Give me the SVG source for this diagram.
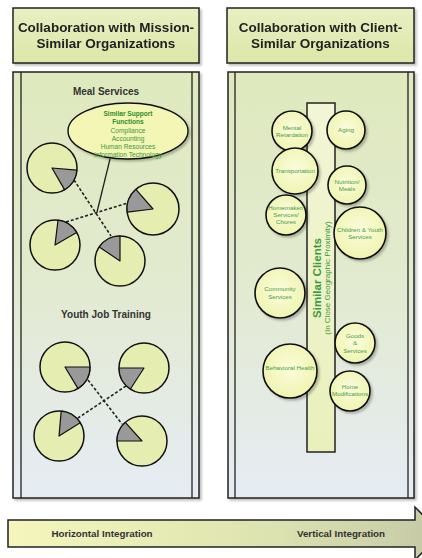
<svg xmlns="http://www.w3.org/2000/svg" width="422" height="558" viewBox="0 0 422 558">
<defs>
<linearGradient id="hdr" x1="0" y1="0" x2="0" y2="1"><stop offset="0" stop-color="#E8EFC2"/><stop offset="1" stop-color="#DCE7A8"/></linearGradient>
<linearGradient id="pnl" x1="0" y1="0" x2="0" y2="1"><stop offset="0" stop-color="#DFE9BD"/><stop offset="0.5" stop-color="#E2EAD0"/><stop offset="1" stop-color="#E6ECF4"/></linearGradient>
<linearGradient id="arr" x1="0" y1="0" x2="1" y2="0"><stop offset="0" stop-color="#F4F6BC"/><stop offset="0.6" stop-color="#DDE3B0"/><stop offset="1" stop-color="#C4C9A6"/></linearGradient>
<linearGradient id="bar" x1="0" y1="0" x2="0" y2="1"><stop offset="0" stop-color="#F2F6D6"/><stop offset="1" stop-color="#E9F0BC"/></linearGradient>
<radialGradient id="cir" cx="0.5" cy="0.45" r="0.55"><stop offset="0" stop-color="#FBFCDC"/><stop offset="1" stop-color="#EFF4B0"/></radialGradient>
<filter id="sh" x="-10%" y="-10%" width="130%" height="130%"><feDropShadow dx="2" dy="2" stdDeviation="1.2" flood-color="#000" flood-opacity="0.25"/></filter>
</defs>
<style>
.box{stroke:#222;stroke-width:1.5}
.hdr{fill:url(#hdr)}
.pnl{fill:url(#pnl)}
.ln{stroke:#222;stroke-width:1.3;fill:none}
.pie{fill:#E5EDB0;stroke:#111;stroke-width:1.5}
.wedge{fill:#999;stroke:#111;stroke-width:1.2;stroke-linejoin:round}
.dash{stroke:#222;stroke-width:1.6;stroke-dasharray:3 2;fill:none}
.cl{fill:url(#cir);stroke:#111;stroke-width:1.6}
.ht{font-family:"Liberation Sans",Arial,sans-serif;font-weight:bold;font-size:13.5px;fill:#222;text-anchor:middle}
.st{font-family:"Liberation Sans",Arial,sans-serif;font-weight:bold;font-size:10px;fill:#333;text-anchor:middle}
.et{font-family:"Liberation Sans",Arial,sans-serif;font-size:6.6px;fill:#3E9A3E;text-anchor:middle}
.eb{font-weight:bold;fill:#2F8F2F}
.ct{font-family:"Liberation Sans",Arial,sans-serif;font-size:6.2px;fill:#44A044;text-anchor:middle}
.bt{font-family:"Liberation Sans",Arial,sans-serif;font-weight:bold;font-size:11.5px;fill:#3A9A3A;text-anchor:middle}
.bs{font-family:"Liberation Sans",Arial,sans-serif;font-size:8px;fill:#3A9A3A;text-anchor:middle}
.at{font-family:"Liberation Sans",Arial,sans-serif;font-weight:bold;font-size:9.8px;fill:#333;text-anchor:middle}
</style>

<g id="header-left" filter="url(#sh)">
<rect class="box hdr" x="13" y="8" width="186" height="55"/>
<text class="ht" x="106" y="32">Collaboration with Mission-</text>
<text class="ht" x="106" y="48">Similar Organizations</text>
</g>
<g id="header-right" filter="url(#sh)">
<rect class="box hdr" x="227" y="8" width="187" height="55"/>
<text class="ht" x="320.5" y="32">Collaboration with Client-</text>
<text class="ht" x="320.5" y="48">Similar Organizations</text>
</g>

<g id="panel-left">
<rect class="box pnl" x="13" y="72" width="186" height="426" filter="url(#sh)"/>
<line class="ln" x1="21" y1="72" x2="21" y2="498"/>
<line class="ln" x1="192" y1="72" x2="192" y2="498"/>
</g>
<g id="panel-right">
<rect class="box pnl" x="228" y="72" width="186" height="426" filter="url(#sh)"/>
<line class="ln" x1="235" y1="72" x2="235" y2="498"/>
<line class="ln" x1="408" y1="72" x2="408" y2="498"/>
</g>

<text class="st" x="106" y="95">Meal Services</text>
<text class="st" x="106" y="318">Youth Job Training</text>

<g id="connectors">
<line class="dash" x1="74" y1="180" x2="111" y2="236"/>
<line class="dash" x1="66" y1="222" x2="131" y2="202"/>
<line class="ln" x1="97" y1="212" x2="110" y2="159"/>
<line class="dash" x1="88" y1="380" x2="122" y2="424"/>
<line class="dash" x1="126" y1="386" x2="78" y2="418"/>
</g>

<g id="support-functions" filter="url(#sh)">
<ellipse cx="128" cy="131" rx="60" ry="28" fill="#F3F6B4" stroke="#111" stroke-width="1.4"/>
</g>
<g id="support-functions-text">
<text class="et eb" x="128" y="115.5">Similar Support</text>
<text class="et eb" x="128" y="124">Functions</text>
<text class="et" x="128" y="132.5">Compliance</text>
<text class="et" x="128" y="140.5">Accounting</text>
<text class="et" x="128" y="148.5">Human Resources</text>
<text class="et" x="128" y="156.5">Information Technology</text>
</g>

<g id="meal-org-1"><circle class="pie" cx="52" cy="168" r="25"/><path class="wedge" d="M52,168 L76.9,170.2 A25,25 0 0,1 64.5,189.65 Z"/></g>
<g id="meal-org-2"><circle class="pie" cx="153" cy="209" r="26"/><path class="wedge" d="M153,209 L127.2,212.2 A26,26 0 0,1 135.9,189.4 Z"/></g>
<g id="meal-org-3"><circle class="pie" cx="55" cy="245" r="25"/><path class="wedge" d="M55,245 L58,220.2 A25,25 0 0,1 76.65,232.5 Z"/></g>
<g id="meal-org-4"><circle class="pie" cx="120" cy="261" r="25"/><path class="wedge" d="M120,261 L99.3,247 A25,25 0 0,1 120,236 Z"/></g>

<g id="youth-org-1"><circle class="pie" cx="65" cy="367" r="25"/><path class="wedge" d="M65,367 L90,367 A25,25 0 0,1 77.9,388.4 Z"/></g>
<g id="youth-org-2"><circle class="pie" cx="144" cy="368" r="25"/><path class="wedge" d="M144,368 L130.4,389 A25,25 0 0,1 119,368 Z"/></g>
<g id="youth-org-3"><circle class="pie" cx="59" cy="436" r="25"/><path class="wedge" d="M59,436 L61.2,411.1 A25,25 0 0,1 80.2,422.75 Z"/></g>
<g id="youth-org-4"><circle class="pie" cx="142" cy="441" r="25"/><path class="wedge" d="M142,441 L117,441 A25,25 0 0,1 125.3,422.4 Z"/></g>

<g id="similar-clients">
<rect x="307" y="103" width="28" height="349" fill="url(#bar)" stroke="#222" stroke-width="1.5"/>
<text class="bt" transform="translate(321,278) rotate(-90)">Similar Clients</text>
<text class="bs" transform="translate(330,278) rotate(-90)">(In Close Geographic Proximity)</text>
</g>

<g id="c-mental" filter="url(#sh)"><circle class="cl" cx="292" cy="131" r="20"/></g>
<text class="ct" x="292" y="130">Mental</text><text class="ct" x="292" y="137">Retardation</text>
<g id="c-aging" filter="url(#sh)"><circle class="cl" cx="346" cy="130" r="19"/></g>
<text class="ct" x="346" y="132">Aging</text>
<g id="c-transport" filter="url(#sh)"><circle class="cl" cx="295" cy="171" r="23"/></g>
<text class="ct" x="295" y="173">Transportation</text>
<g id="c-nutrition" filter="url(#sh)"><circle class="cl" cx="347" cy="185" r="19"/></g>
<text class="ct" x="347" y="184">Nutrition/</text><text class="ct" x="347" y="191">Meals</text>
<g id="c-homemaker" filter="url(#sh)"><circle class="cl" cx="286" cy="215" r="20"/></g>
<text class="ct" x="286" y="210">Homemaker/</text><text class="ct" x="286" y="217">Services/</text><text class="ct" x="286" y="224">Chores</text>
<g id="c-children" filter="url(#sh)"><circle class="cl" cx="360" cy="233" r="26"/></g>
<text class="ct" x="360" y="232">Children &amp; Youth</text><text class="ct" x="360" y="239">Services</text>
<g id="c-community" filter="url(#sh)"><circle class="cl" cx="280" cy="293" r="25"/></g>
<text class="ct" x="280" y="291">Community</text><text class="ct" x="280" y="299">Services</text>
<g id="c-goods" filter="url(#sh)"><circle class="cl" cx="355" cy="343" r="20"/></g>
<text class="ct" x="355" y="338">Goods</text><text class="ct" x="355" y="345">&amp;</text><text class="ct" x="355" y="353">Services</text>
<g id="c-behavioral" filter="url(#sh)"><circle class="cl" cx="290" cy="371" r="27"/></g>
<text class="ct" x="290" y="370">Behavioral Health</text>
<g id="c-home" filter="url(#sh)"><circle class="cl" cx="350" cy="391" r="20"/></g>
<text class="ct" x="350" y="389">Home</text><text class="ct" x="350" y="396">Modifications</text>

<g id="integration-arrow">
<path d="M8,520 L415,520 L415,507 L441,533.5 L415,560 L415,547 L8,547 Z" fill="url(#arr)" stroke="#222" stroke-width="1.5"/>
<text class="at" x="102" y="537">Horizontal Integration</text>
<text class="at" x="341" y="537">Vertical Integration</text>
</g>
</svg>
